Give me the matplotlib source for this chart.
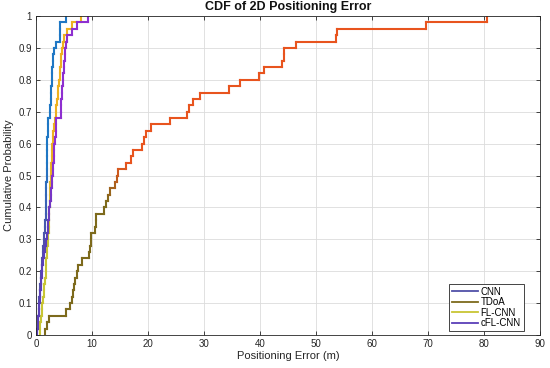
import numpy as np
import matplotlib
matplotlib.use("Agg")
import matplotlib.pyplot as plt
from matplotlib.collections import LineCollection
from matplotlib.lines import Line2D
from matplotlib.colors import to_rgb

plt.rcParams['font.family'] = ['Liberation Sans', 'DejaVu Sans']

# Sorted positioning errors (m), 50 test points per method
cnn_err = [0.15, 0.3, 0.4, 0.5, 0.55, 0.62, 0.7, 0.8, 0.88, 0.95,
           1.05, 1.15, 1.25, 1.33, 1.4, 1.5, 1.58, 1.65, 1.7, 1.75,
           1.78, 1.8, 1.83, 1.86, 1.9, 1.92, 1.94, 1.96, 1.98, 2.0,
           2.03, 2.06, 2.08, 2.1, 2.5, 2.55, 2.6, 2.65, 2.7, 2.8,
           2.85, 2.9, 3.0, 3.1, 3.3, 3.5, 4.3, 4.3, 4.3, 5.3]
tdoa_err = [1.6, 1.9, 2.3, 5.36, 6.0, 6.4, 6.6, 6.8, 6.9, 7.3,
            7.56, 8.15, 9.5, 9.64, 9.75, 9.82, 10.6, 10.7, 10.8, 12.2,
            12.5, 12.8, 13.3, 14.1, 14.5, 14.7, 16.1, 17.0, 17.4, 19.0,
            19.3, 19.6, 20.5, 23.9, 27.0, 27.4, 28.1, 29.3, 34.4, 36.4,
            39.8, 40.8, 44.0, 44.2, 44.3, 46.4, 53.6, 53.7, 69.6, 80.5]
flcnn_err = [0.7, 0.8, 0.9, 1.0, 1.15, 1.25, 1.35, 1.45, 1.6, 1.7,
             1.78, 1.86, 1.95, 2.05, 2.15, 2.2, 2.25, 2.3, 2.35, 2.4,
             2.44, 2.48, 2.52, 2.56, 2.6, 2.65, 2.7, 2.78, 2.85, 2.9,
             3.0, 3.1, 3.25, 3.35, 3.5, 3.6, 3.75, 3.85, 4.0, 4.1,
             4.2, 4.35, 4.45, 4.55, 4.7, 4.85, 5.0, 5.5, 6.4, 8.0]
cflcnn_err = [0.2, 0.3, 0.4, 0.5, 0.6, 0.7, 0.8, 0.9, 0.98, 1.05,
              1.15, 1.3, 1.45, 1.6, 1.8, 1.95, 2.1, 2.2, 2.3, 2.4,
              2.5, 2.6, 2.7, 2.8, 2.9, 2.98, 3.05, 3.15, 3.22, 3.3,
              3.4, 3.5, 3.55, 3.57, 4.4, 4.45, 4.55, 4.62, 4.7, 4.8,
              4.9, 4.98, 5.05, 5.12, 5.2, 5.35, 5.5, 6.5, 7.3, 9.2]

labels = ['CNN', 'TDoA', 'FL-CNN', 'cFL-CNN']
series = [cnn_err, tdoa_err, flcnn_err, cflcnn_err]
low_colors = ['#5050a8', '#7d6a1c', '#c8c534', '#5a3fb8']
high_colors = ['#1f77c4', '#e8541e', '#edb120', '#8e2fd0']
blend_lo = [0.30, 0.42, 0.30, 0.30]
blend_hi = [0.55, 0.54, 0.55, 0.55]

fig = plt.figure(figsize=(5.5, 3.68), dpi=100)
ax = fig.add_axes([36/550, 1-335/368, 504/550, 319/368])

for vals, lc, hc, b0, b1 in zip(series, low_colors, high_colors, blend_lo, blend_hi):
    v = np.sort(np.asarray(vals, dtype=float))
    n = len(v)
    xs = [v[0]]
    ys = [0.0]
    for i, xv in enumerate(v):
        xs += [xv]
        ys += [(i + 1) / n]
        if i + 1 < n:
            xs += [v[i + 1]]
            ys += [(i + 1) / n]
    pts = np.column_stack([xs, ys])
    segs = np.stack([pts[:-1], pts[1:]], axis=1)
    ymid = segs[:, :, 1].mean(axis=1)
    t = np.clip((ymid - b0) / (b1 - b0), 0, 1)[:, None]
    cols = (1 - t) * np.array(to_rgb(lc)) + t * np.array(to_rgb(hc))
    coll = LineCollection(segs, colors=cols, linewidths=1.5, capstyle='projecting', joinstyle='miter')
    ax.add_collection(coll)

ax.set_xlim(0, 90)
ax.set_ylim(0, 1)
ax.set_xticks(np.arange(0, 91, 10))
ax.set_yticks(np.arange(0, 1.01, 0.1))
ax.set_yticklabels(['0', '0.1', '0.2', '0.3', '0.4', '0.5', '0.6', '0.7', '0.8', '0.9', '1'])
ax.grid(True, color='#dcdcdc', linewidth=0.6)
ax.set_axisbelow(True)
ax.tick_params(direction='in', top=True, right=True, length=3, width=0.6,
               labelsize=7, colors='#262626', pad=3)
for s in ax.spines.values():
    s.set_color('#262626')
    s.set_linewidth(0.6)
ax.set_xlabel('Positioning Error (m)', fontsize=8, color='#262626', labelpad=1)
ax.set_ylabel('Cumulative Probability', fontsize=8, color='#262626', labelpad=3)
ax.set_title('CDF of 2D Positioning Error', fontsize=9, fontweight='bold', color='#111111', pad=4)

handles = [Line2D([0], [0], color=c, lw=1.3) for c in low_colors]
leg = ax.legend(handles, labels, loc='lower right', fontsize=7, frameon=True, fancybox=False,
                edgecolor='#262626', framealpha=1, handlelength=2.6, handletextpad=0.3,
                labelspacing=0.05, borderpad=0.3, borderaxespad=0.4,
                bbox_to_anchor=(0.975, 0.0))
leg.get_frame().set_linewidth(0.6)

fig.savefig('out.png', dpi=100)
